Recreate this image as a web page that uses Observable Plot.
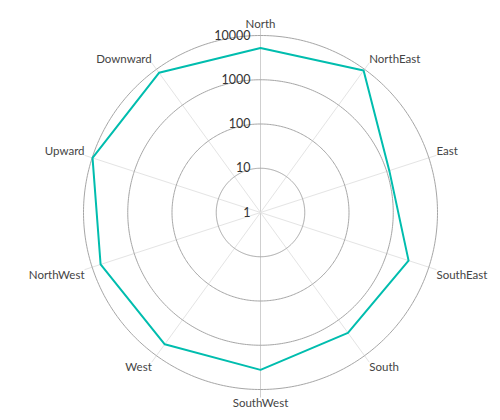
<!DOCTYPE html>
<html>
<head>
<meta charset="utf-8">
<script src="https://cdn.jsdelivr.net/npm/d3@7"></script>
<script src="https://cdn.jsdelivr.net/npm/@observablehq/plot@0.6"></script>
<style>
  html, body { margin: 0; padding: 0; background: #fff; }
  svg { display: block; }
</style>
</head>
<body>
<div id="chart"></div>
<script>
// ---- data ----
const categories = ["North", "NorthEast", "East", "SouthEast", "South", "SouthWest", "West", "NorthWest", "Upward", "Downward"];
const values = [5200, 9200, 1150, 3300, 2300, 3600, 4800, 6300, 9800, 8000];
const tickValues = [1, 10, 100, 1000, 10000];
const tickLabels = ["1", "10", "100", "1000", "10000"];

// ---- polar helpers (log radial scale mapped to a polar projection) ----
const step = 360 / categories.length;
const lon = i => 180 - i * step;            // clockwise from North
const DEG_PER_DECADE = 10;
const lat = v => 90 - DEG_PER_DECADE * Math.log10(v);
const outer = DEG_PER_DECADE * Math.log10(tickValues[tickValues.length - 1]);
const labelR = outer * 185 / 177;

const points = categories.map((c, i) => ({c, v: values[i], i}));

// category label placement groups
function side(i) {
  const a = (i * step) % 360;
  const h = (a === 0 || a === 180) ? "middle" : (a < 180 ? "start" : "end");
  const v = (a < 90 || a > 270) ? "bottom" : (a === 90 || a === 270 ? "middle" : "top");
  return h + "|" + v;
}
const groups = d3.groups(points, d => side(d.i));

const labelMarks = groups.map(([key, arr]) => {
  const [h, v] = key.split("|");
  return Plot.text(arr, {
    x: d => lon(d.i),
    y: () => 90 - labelR,
    text: d => d.c,
    textAnchor: h,
    lineAnchor: v,
    dy: v === "top" ? 1 : 0,
    fontSize: 11.5,
    fill: "#444"
  });
});

const chart = Plot.plot({
  width: 500,
  height: 420,
  marginLeft: 83,
  marginRight: 63,
  marginTop: 35,
  marginBottom: 31,
  style: {fontFamily: "Lato, 'Open Sans', 'Noto Sans', sans-serif", background: "#fff"},
  projection: {
    type: "azimuthal-equidistant",
    rotate: [0, -90],
    clip: false,
    domain: d3.geoCircle().center([0, 90]).radius(outer)()
  },
  marks: [
    // spokes
    Plot.link(points, {
      x1: d => lon(d.i), y1: () => 90,
      x2: d => lon(d.i), y2: () => 90 - labelR,
      stroke: d => (d.i % 5 === 0 ? "#cfcfcf" : "#e4e4e4"), strokeWidth: 1
    }),
    // grid circles
    Plot.geo(tickValues.filter(t => t > 1), {
      geometry: t => d3.geoCircle().center([0, 90]).radius(90 - lat(t)).precision(1)(),
      stroke: "#a6a6a6", strokeWidth: 1, fill: "none"
    }),
    // series
    Plot.line(points, {
      x: d => lon(d.i), y: d => lat(d.v),
      curve: "linear-closed",
      stroke: "#00BDAE", strokeWidth: 2
    }),
    // radial tick labels
    Plot.text(tickValues, {
      x: () => 180, y: t => lat(t),
      text: (t, i) => tickLabels[i],
      textAnchor: "end", dx: -10,
      fontSize: 12.5, fill: "#333"
    }),
    ...labelMarks
  ]
});
document.getElementById("chart").appendChild(chart);
</script>
</body>
</html>
